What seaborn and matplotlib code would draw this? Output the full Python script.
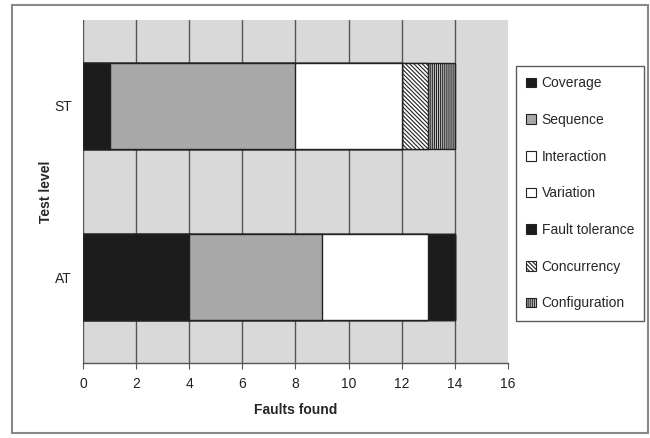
import matplotlib
matplotlib.use("Agg")
import matplotlib.pyplot as plt
from matplotlib.patches import Patch, Rectangle
import numpy as np
import pandas as pd
import seaborn as sns

levels = ["ST", "AT"]
series = ["Coverage", "Sequence", "Interaction", "Variation",
          "Fault tolerance", "Concurrency", "Configuration"]
st_values = [1, 7, 4, 0, 0, 1, 1]
at_values = [4, 5, 4, 0, 1, 0, 0]
x_ticks = [0, 2, 4, 6, 8, 10, 12, 14, 16]

face_colors = ["#1c1c1c", "#a8a8a8", "#ffffff", "#ffffff",
               "#1c1c1c", "#ffffff", "#d0d0d0"]
hatches = [None, None, None, None, None, "\\\\\\\\\\\\\\\\", "||||||||"]

sns.set_theme(style="white")
plt.rcParams["font.family"] = ["Liberation Sans", "DejaVu Sans"]
plt.rcParams["hatch.linewidth"] = 0.8

fig = plt.figure(figsize=(6.5, 4.38), dpi=100)
ax = fig.add_axes([0.1277, 0.1712, 0.6538, 0.7831])
ax.set_facecolor("#d9d9d9")

vals = np.array([st_values, at_values], dtype=float)
cums = np.cumsum(vals, axis=1)

# draw cumulative bars from last series to first so that earlier segments sit on top
for i in range(len(series) - 1, -1, -1):
    df = pd.DataFrame({"level": levels, "cum": cums[:, i]})
    kw = dict(edgecolor="#222222", linewidth=1.0)
    if hatches[i]:
        kw["hatch"] = hatches[i]
    sns.barplot(data=df, x="cum", y="level", orient="h", order=levels,
                color=face_colors[i], saturation=1, width=0.5, ax=ax, **kw)

ax.set_xlim(0, 16)
ax.set_ylim(1.5, -0.5)
ax.set_xticks(x_ticks)
ax.set_xticklabels([str(t) for t in x_ticks], fontsize=10, color="#222222")
ax.tick_params(axis="y", labelsize=10, labelcolor="#222222", length=0, pad=8)
ax.tick_params(axis="x", length=4, width=0.8, color="#555555", pad=6,
               direction="out", bottom=True)
ax.set_axisbelow(True)
ax.xaxis.grid(True, color="#555555", linewidth=1.0)
ax.yaxis.grid(False)
gl = ax.xaxis.get_gridlines()
gl[-1].set_visible(False)
for s in ["top", "right", "left"]:
    ax.spines[s].set_visible(False)
ax.spines["bottom"].set_color("#555555")
ax.spines["bottom"].set_linewidth(1.0)

ax.set_xlabel("Faults found", fontsize=10, fontweight="bold", labelpad=9)
ax.set_ylabel("Test level", fontsize=10, fontweight="bold", labelpad=1)

handles = []
for i, name in enumerate(series):
    h = Patch(facecolor=face_colors[i], edgecolor="#222222", linewidth=0.8,
              hatch=hatches[i] if hatches[i] else None, label=name)
    handles.append(h)
leg = fig.legend(handles=handles, loc="upper left",
                 bbox_to_anchor=(516 / 650, 1 - 66 / 438), bbox_transform=fig.transFigure,
                 frameon=True, fancybox=False, fontsize=10, handlelength=0.7,
                 handleheight=0.7, handletextpad=0.4, labelspacing=1.63,
                 borderpad=0.75, borderaxespad=0)
leg.get_frame().set_edgecolor("#333333")
leg.get_frame().set_linewidth(1.0)

# outer chart frame
fig.patches.append(Rectangle((12 / 650, 1 - 433 / 438), 636 / 650, 428 / 438,
                             transform=fig.transFigure, fill=False,
                             edgecolor="#888888", linewidth=1.5))

fig.savefig("out.png", dpi=100)
